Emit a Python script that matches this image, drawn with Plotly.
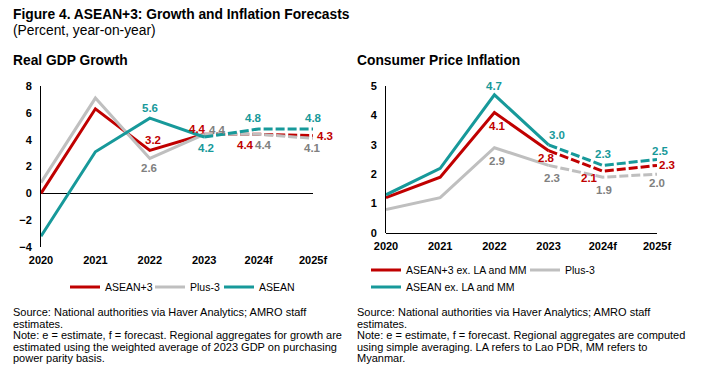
import plotly.graph_objects as go

W, H = 705, 372
FONT = "Arial, Liberation Sans, sans-serif"

# ---------------- data ----------------
years = ["2020", "2021", "2022", "2023", "2024f", "2025f"]

gdp_asean3 = [0.0, 6.3, 3.2, 4.4, 4.4, 4.3]
gdp_plus3 = [0.8, 7.1, 2.6, 4.4, 4.4, 4.1]
gdp_asean = [-3.2, 3.1, 5.6, 4.2, 4.8, 4.8]

cpi_asean3 = [1.2, 1.9, 4.1, 2.8, 2.1, 2.3]
cpi_plus3 = [0.8, 1.2, 2.9, 2.3, 1.9, 2.0]
cpi_asean = [1.3, 2.2, 4.7, 3.0, 2.3, 2.5]

RED, GREY, TEAL = "#C00000", "#BFBFBF", "#17999A"
RED_T, GREY_T, TEAL_T = "#C00000", "#808080", "#17999A"

xi = list(range(len(years)))
ACT = 4  # number of actual points (2020-2023)

fig = go.Figure()


def add_series(vals, name, color, xa, ya, legend):
    fig.add_trace(go.Scatter(x=xi[:ACT], y=vals[:ACT], mode="lines", name=name,
                             line=dict(color=color, width=3), xaxis=xa, yaxis=ya,
                             legend=legend, showlegend=True, hoverinfo="skip"))
    fig.add_trace(go.Scatter(x=xi[ACT - 1:], y=vals[ACT - 1:], mode="lines", name=name,
                             line=dict(color=color, width=3, dash="9px,3px"),
                             xaxis=xa, yaxis=ya, showlegend=False, hoverinfo="skip"))


add_series(gdp_asean3, "ASEAN+3", RED, "x", "y", "legend")
add_series(gdp_plus3, "Plus-3", GREY, "x", "y", "legend4")
add_series(gdp_asean, "ASEAN", TEAL, "x", "y", "legend5")

add_series(cpi_asean3, "ASEAN+3 ex. LA and MM", RED, "x2", "y2", "legend2")
add_series(cpi_plus3, "Plus-3", GREY, "x2", "y2", "legend6")
add_series(cpi_asean, "ASEAN ex. LA and MM", TEAL, "x2", "y2", "legend3")

# data labels: index -> (dx, dy) pixel offsets
ann = []


def labels(vals, color, offs, xr, yr):
    for i, (dx, dy) in offs.items():
        ann.append(dict(x=xi[i], y=vals[i], xref=xr, yref=yr, text=f"{vals[i]:.1f}",
                        showarrow=False, xshift=dx, yshift=dy,
                        font=dict(family=FONT, size=11.5, color=color, weight="bold")))


labels(gdp_asean3, RED_T, {2: (3, 10), 3: (-7, 5), 4: (-13, -11), 5: (12, 0)}, "x", "y")
labels(gdp_plus3, GREY_T, {2: (-1, -10), 3: (13, 4), 4: (5, -11), 5: (-1, -10)}, "x", "y")
labels(gdp_asean, TEAL_T, {2: (0, 10), 3: (2, -11), 4: (-5, 11), 5: (0, 11)}, "x", "y")

labels(cpi_asean3, RED_T, {2: (3, -14), 3: (-2, -7), 4: (-13, -7), 5: (10, 0)}, "x2", "y2")
labels(cpi_plus3, GREY_T, {2: (3, -13), 3: (3, -13), 4: (1, -13), 5: (0, -9)}, "x2", "y2")
labels(cpi_asean, TEAL_T, {2: (0, 9), 3: (8, 10), 4: (0, 11), 5: (3, 9)}, "x2", "y2")


def px_x(p):
    return p / W


def px_y(p):
    return 1 - p / H


def text(x, y, s, size=11, bold=False):
    ann.append(dict(x=px_x(x - 2), y=px_y(y), xref="paper", yref="paper", text=s,
                    showarrow=False, xanchor="left", yanchor="middle", align="left",
                    font=dict(family=FONT, size=size, color="#000",
                              weight="bold" if bold else "normal")))


text(13, 15, "Figure 4. ASEAN+3: Growth and Inflation Forecasts", 13.8, True)
text(13, 30, "(Percent, year-on-year)", 13.8)
text(13, 61, "Real GDP Growth", 13.8, True)
text(357, 61, "Consumer Price Inflation", 13.8, True)

left_notes = ["Source: National authorities via Haver Analytics; AMRO staff",
              "estimates.",
              "Note: e = estimate, f = forecast. Regional aggregates for growth are",
              "estimated using the weighted average of 2023 GDP on purchasing",
              "power parity basis."]
right_notes = ["Source: National authorities via Haver Analytics; AMRO staff",
               "estimates.",
               "Note: e = estimate, f = forecast. Regional aggregates are computed",
               "using simple averaging. LA refers to Lao PDR, MM refers to",
               "Myanmar."]
for k, s in enumerate(left_notes):
    text(13, 312 + k * 11.6, s, 11)
for k, s in enumerate(right_notes):
    text(357, 312 + k * 11.6, s, 11)

tickfont = dict(family=FONT, size=11, color="#000", weight="bold")
xcommon = dict(tickmode="array", tickvals=xi, ticktext=years, range=[0, 5],
               showgrid=False, zeroline=False, ticks="outside", ticklen=3,
               tickcolor="rgba(0,0,0,0)", tickfont=tickfont, fixedrange=True,
               automargin=False)
ycommon = dict(showgrid=False, showline=True, linecolor="#000", linewidth=1,
               zeroline=True, zerolinecolor="#000", zerolinewidth=1,
               ticks="outside", ticklen=6, tickcolor="rgba(0,0,0,0)",
               tickfont=tickfont, fixedrange=True, automargin=False)

legfont = dict(family=FONT, size=10.5, color="#000")


def leg(xpx, ypx):
    return dict(orientation="h", x=px_x(xpx), y=px_y(ypx), xanchor="left", yanchor="middle",
                font=legfont, bgcolor="rgba(0,0,0,0)")


fig.update_layout(
    template="none",
    width=W, height=H, margin=dict(l=0, r=0, t=0, b=0, autoexpand=False),
    paper_bgcolor="white", plot_bgcolor="white",
    xaxis=dict(domain=[px_x(41), px_x(313)], anchor="y", showline=False, **xcommon),
    yaxis=dict(domain=[px_y(247), px_y(86)], anchor="x", range=[-4, 8], dtick=2, **ycommon),
    xaxis2=dict(domain=[px_x(386), px_x(657)], anchor="y2", showline=False, **xcommon),
    yaxis2=dict(domain=[px_y(233), px_y(86)], anchor="x2", range=[0, 5], dtick=1, **ycommon),
    legend=leg(65, 287),
    legend4=leg(150, 287),
    legend5=leg(219, 287),
    legend2=leg(366, 270),
    legend6=leg(525, 270),
    legend3=leg(366, 287),
    annotations=ann,
    showlegend=True,
)

fig.write_html("out.html", config={"displayModeBar": False},
               post_script="document.body.style.margin='0';document.body.style.overflow='hidden';")
